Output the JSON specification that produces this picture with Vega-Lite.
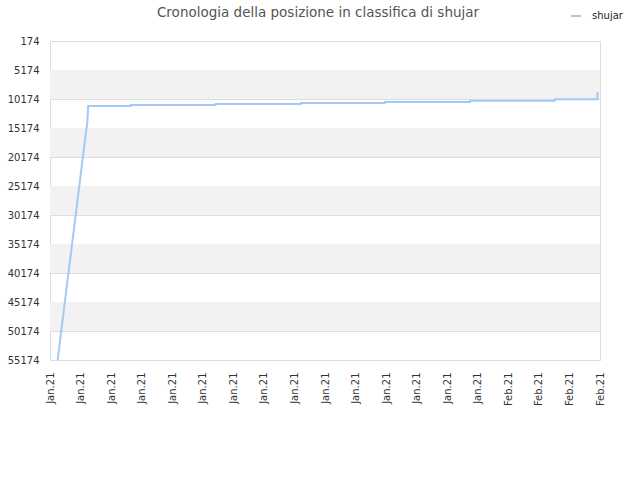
{
  "$schema": "https://vega.github.io/schema/vega-lite/v6.json",
  "width": 550,
  "height": 319,
  "autosize": {"type": "none"},
  "padding": {"left": 50, "top": 41, "right": 40, "bottom": 120},
  "title": {
    "text": "Cronologia della posizione in classifica di shujar",
    "font": "DejaVu Sans",
    "fontSize": 13.5,
    "fontWeight": "normal",
    "color": "#555555",
    "anchor": "middle",
    "frame": "group",
    "offset": -9,
    "dx": -7
  },
  "config": {
    "view": {"stroke": "#dddddd"},
    "font": "DejaVu Sans"
  },
  "datasets": {
    "bands": [
      {"from": 5174, "to": 10174},
      {"from": 15174, "to": 20174},
      {"from": 25174, "to": 30174},
      {"from": 35174, "to": 40174},
      {"from": 45174, "to": 50174}
    ],
    "ranks": [
      {"player": "shujar", "date": "2021-01-02T12:00:00", "rank": 55174},
      {"player": "shujar", "date": "2021-01-02T18:00:00", "rank": 49880},
      {"player": "shujar", "date": "2021-01-03T00:00:00", "rank": 44590},
      {"player": "shujar", "date": "2021-01-03T06:00:00", "rank": 39300},
      {"player": "shujar", "date": "2021-01-03T12:00:00", "rank": 34010},
      {"player": "shujar", "date": "2021-01-03T18:00:00", "rank": 28720},
      {"player": "shujar", "date": "2021-01-04T00:00:00", "rank": 23430},
      {"player": "shujar", "date": "2021-01-04T06:00:00", "rank": 18140},
      {"player": "shujar", "date": "2021-01-04T09:00:00", "rank": 15500},
      {"player": "shujar", "date": "2021-01-04T10:30:00", "rank": 14400},
      {"player": "shujar", "date": "2021-01-04T12:00:00", "rank": 11381},
      {"player": "shujar", "date": "2021-01-07T07:00:00", "rank": 11381},
      {"player": "shujar", "date": "2021-01-07T07:00:00", "rank": 11208},
      {"player": "shujar", "date": "2021-01-12T20:00:00", "rank": 11208},
      {"player": "shujar", "date": "2021-01-12T20:00:00", "rank": 11036},
      {"player": "shujar", "date": "2021-01-18T10:00:00", "rank": 11036},
      {"player": "shujar", "date": "2021-01-18T10:00:00", "rank": 10864},
      {"player": "shujar", "date": "2021-01-23T22:00:00", "rank": 10864},
      {"player": "shujar", "date": "2021-01-23T22:00:00", "rank": 10691},
      {"player": "shujar", "date": "2021-01-29T12:00:00", "rank": 10691},
      {"player": "shujar", "date": "2021-01-29T12:00:00", "rank": 10467},
      {"player": "shujar", "date": "2021-02-04T01:00:00", "rank": 10467},
      {"player": "shujar", "date": "2021-02-04T01:00:00", "rank": 10225},
      {"player": "shujar", "date": "2021-02-06T20:00:00", "rank": 10225},
      {"player": "shujar", "date": "2021-02-06T20:00:00", "rank": 8967}
    ]
  },
  "layer": [
    {
      "data": {"name": "bands"},
      "mark": {"type": "rect", "fill": "#f2f2f2"},
      "encoding": {
        "y": {
          "field": "from",
          "type": "quantitative",
          "scale": {"domain": [174, 55174], "reverse": true, "nice": false, "zero": false},
          "axis": {
            "title": null,
            "values": [174, 5174, 10174, 15174, 20174, 25174, 30174, 35174, 40174, 45174, 50174, 55174],
            "format": "d",
            "labelFontSize": 10,
            "labelColor": "#333333",
            "labelPadding": 11,
            "ticks": false,
            "domain": false,
            "grid": true,
            "gridColor": "#dddddd",
            "gridWidth": 1
          }
        },
        "y2": {"field": "to"}
      }
    },
    {
      "data": {"name": "ranks"},
      "mark": {"type": "line", "interpolate": "linear", "strokeWidth": 2, "clip": true},
      "encoding": {
        "x": {
          "field": "date",
          "type": "temporal",
          "scale": {
            "domain": [
              {"year": 2021, "month": 1, "date": 2},
              {"year": 2021, "month": 2, "date": 7}
            ]
          },
          "axis": {
            "title": null,
            "format": "%b.%y",
            "labelAngle": -90,
            "labelFontSize": 10,
            "labelColor": "#333333",
            "labelPadding": 12,
            "ticks": false,
            "domain": false,
            "grid": false,
            "values": [
              {"year": 2021, "month": 1, "date": 2},
              {"year": 2021, "month": 1, "date": 4},
              {"year": 2021, "month": 1, "date": 6},
              {"year": 2021, "month": 1, "date": 8},
              {"year": 2021, "month": 1, "date": 10},
              {"year": 2021, "month": 1, "date": 12},
              {"year": 2021, "month": 1, "date": 14},
              {"year": 2021, "month": 1, "date": 16},
              {"year": 2021, "month": 1, "date": 18},
              {"year": 2021, "month": 1, "date": 20},
              {"year": 2021, "month": 1, "date": 22},
              {"year": 2021, "month": 1, "date": 24},
              {"year": 2021, "month": 1, "date": 26},
              {"year": 2021, "month": 1, "date": 28},
              {"year": 2021, "month": 1, "date": 30},
              {"year": 2021, "month": 2, "date": 1},
              {"year": 2021, "month": 2, "date": 3},
              {"year": 2021, "month": 2, "date": 5},
              {"year": 2021, "month": 2, "date": 7}
            ]
          }
        },
        "y": {
          "field": "rank",
          "type": "quantitative",
          "scale": {"domain": [174, 55174], "reverse": true, "nice": false, "zero": false},
          "axis": {
            "title": null,
            "values": [174, 5174, 10174, 15174, 20174, 25174, 30174, 35174, 40174, 45174, 50174, 55174],
            "format": "d",
            "labelFontSize": 10,
            "labelColor": "#333333",
            "labelPadding": 11,
            "ticks": false,
            "domain": false,
            "grid": true,
            "gridColor": "#dddddd",
            "gridWidth": 1
          }
        },
        "color": {
          "field": "player",
          "type": "nominal",
          "scale": {"range": ["#a0cbf5"]},
          "legend": {
            "title": null,
            "orient": "none",
            "legendX": 520,
            "legendY": -31,
            "symbolType": "stroke",
            "symbolSize": 100,
            "symbolStrokeWidth": 2,
            "labelFontSize": 10,
            "labelColor": "#222222",
            "labelOffset": 10
          }
        }
      }
    }
  ]
}
